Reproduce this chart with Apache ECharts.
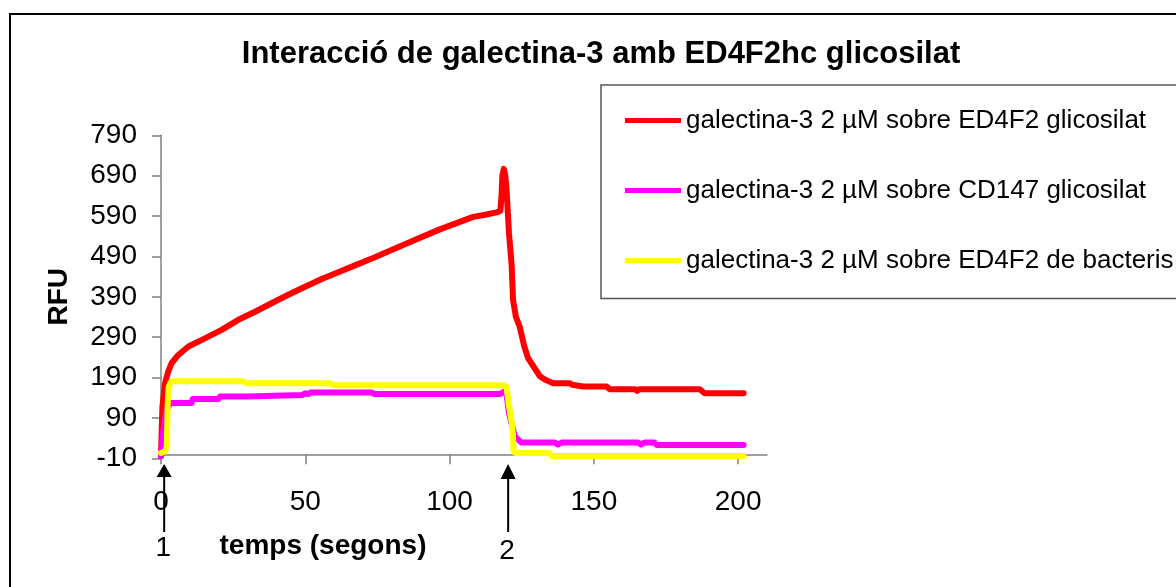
<!DOCTYPE html>
<html>
<head>
<meta charset="utf-8">
<script src="https://cdn.jsdelivr.net/npm/echarts@6/dist/echarts.min.js"></script>
<style>
  html, body { margin: 0; padding: 0; background: #ffffff; }
  #chart { width: 1176px; height: 587px; }
</style>
</head>
<body>
<div id="chart"></div>
<script>
// Binding kinetics of galectin-3 (RFU vs time in seconds)
const seriesNames = [
  'galectina-3 2 µM sobre ED4F2 glicosilat',
  'galectina-3 2 µM sobre CD147 glicosilat',
  'galectina-3 2 µM sobre ED4F2 de bacteris'
];

const redT = [0, 0.25, 0.5, 1.4, 2.5, 3.7, 6, 9.5, 15.2, 21, 26.8, 32.6, 38.3, 44.1, 49.9, 55.7, 61.4, 66.6, 73.5, 85.1, 96.6, 108.2, 112.8, 116.3, 117.6, 118, 118.3, 118.8, 119.3, 119.7, 120.6, 121.5, 122, 123, 124.3, 125.9, 127.2, 129.5, 131.3, 133, 135.9, 141.7, 142.5, 146.3, 154.4, 155.5, 164.3, 165, 165.7, 186.7, 188.4, 201.9];
const redV = [-5, 60, 118, 176, 205, 226, 246, 267, 287, 308, 333, 353, 374, 395, 415, 434, 451, 466, 486, 522, 557, 588, 594, 599, 603, 640, 690, 707, 690, 660, 547, 470, 382, 340, 316, 267, 238, 213, 193, 185, 176, 176, 172, 168, 168, 161, 161, 157, 161, 161, 151, 151];

const magT = [0, 0.3, 1, 2, 3.2, 10.6, 11, 19.9, 20.5, 30, 30.6, 49, 50, 51, 52, 73, 74, 117.5, 118.8, 119.7, 120.6, 121.5, 122.6, 123.8, 125, 136.5, 137.5, 138.8, 165.3, 166.3, 167.5, 171, 171.8, 201.9];
const magV = [-5, 20, 70, 110, 127, 127, 137, 137, 143, 143, 147, 147, 151, 149, 153, 153, 149, 149, 155, 150, 102, 75, 45, 36, 29, 29, 24, 29, 29, 24, 29, 29, 23, 23];

const yelT = [0, 1.5, 2.0, 2.3, 2.6, 3.3, 4.5, 28.5, 29.5, 58.6, 60, 118.6, 119.7, 120.6, 121.5, 121.9, 122.2, 122.8, 134.5, 135.5, 201.9];
const yelV = [3, 8, 20, 120, 165, 178, 181, 181, 176, 176, 171, 171, 167, 120, 80, 52, 8, 3, 3, -4, -4];

const xTicks = [0, 50, 100, 150, 200];
const yTicks = [-10, 90, 190, 290, 390, 490, 590, 690, 790];

// Injection marks under the time axis: [time, label]
const injections = [[1.1, '1'], [120.3, '2']];

const pairs = (t, v) => t.map((x, i) => [x, v[i]]);
const colors = ['#ff0000', '#ff00ff', '#ffff00'];
const FONT = "'Liberation Sans', Arial, Helvetica, sans-serif";

const chart = echarts.init(document.getElementById('chart'), null, { renderer: 'canvas' });

const makeSeries = (name, t, v, color) => ({
  name: name,
  type: 'line',
  data: pairs(t, v),
  showSymbol: false,
  symbol: 'none',
  smooth: false,
  lineStyle: { color: color, width: 6, join: 'round', cap: 'round' },
  itemStyle: { color: color },
  emphasis: { disabled: true },
  clip: false
});

const option = {
  animation: false,
  backgroundColor: '#ffffff',
  textStyle: { fontFamily: FONT },
  grid: { left: 161, right: 409, top: 135.3, bottom: 128.7, containLabel: false },
  legend: {
    orient: 'vertical',
    left: 625,
    top: 105,
    padding: 0,
    icon: 'rect',
    itemWidth: 56,
    itemHeight: 5,
    itemGap: 39,
    selectedMode: false,
    textStyle: { fontFamily: FONT, fontSize: 26, lineHeight: 31, color: '#000' },
    data: seriesNames
  },
  xAxis: {
    type: 'value',
    min: 0,
    max: 210,
    axisLine: { show: true, onZero: true, lineStyle: { color: '#808080', width: 1.5 } },
    axisTick: { show: true, length: 10, customValues: xTicks, lineStyle: { color: '#808080', width: 1.5 } },
    axisLabel: { customValues: xTicks, fontFamily: FONT, fontSize: 28, color: '#000', margin: 30 },
    splitLine: { show: false }
  },
  yAxis: {
    type: 'value',
    min: -10,
    max: 790,
    axisLine: { show: true, lineStyle: { color: '#808080', width: 1.5 } },
    axisTick: { show: true, length: 9, customValues: yTicks, lineStyle: { color: '#808080', width: 1.5 } },
    axisLabel: { customValues: yTicks, fontFamily: FONT, fontSize: 28, color: '#000', margin: 24 },
    splitLine: { show: false },
    name: 'RFU',
    nameLocation: 'middle',
    nameRotate: 90,
    nameGap: 88,
    nameTextStyle: { fontFamily: FONT, fontSize: 28, fontWeight: 'bold', color: '#000' }
  },
  series: [
    makeSeries(seriesNames[0], redT, redV, colors[0]),
    makeSeries(seriesNames[1], magT, magV, colors[1]),
    makeSeries(seriesNames[2], yelT, yelV, colors[2])
  ]
};

chart.setOption(option);

// Frame, title, legend box, axis title and injection arrows
const px = v => chart.convertToPixel({ xAxisIndex: 0 }, v);
const graphics = [
  { type: 'rect', id: 'frame', z: -10, silent: true,
    shape: { x: 10, y: 14, width: 1300, height: 700 },
    style: { fill: 'none', stroke: '#000', lineWidth: 2 } },
  { type: 'rect', id: 'legendBox', z: -5, silent: true,
    shape: { x: 601, y: 85, width: 700, height: 213.5 },
    style: { fill: 'none', stroke: '#555555', lineWidth: 1.5 } },
  { type: 'text', id: 'title', silent: true, x: 601, y: 54,
    style: { text: 'Interacció de galectina-3 amb ED4F2hc glicosilat', font: 'bold 31px ' + FONT,
      fill: '#000', textAlign: 'center', textVerticalAlign: 'middle' } },
  { type: 'text', id: 'xname', silent: true, x: 323, y: 546,
    style: { text: 'temps (segons)', font: 'bold 28px ' + FONT,
      fill: '#000', textAlign: 'center', textVerticalAlign: 'middle' } }
];
const arrowGeom = [{ tip: 464, base: 477, end: 532, labelY: 548 }, { tip: 464, base: 479, end: 532, labelY: 551 }];
injections.forEach((inj, i) => {
  const x = px(inj[0]);
  const g = arrowGeom[i];
  graphics.push(
    { type: 'line', id: 'shaft' + i, silent: true, z: 20,
      shape: { x1: x, y1: g.base - 1, x2: x, y2: g.end },
      style: { stroke: '#000', lineWidth: 2 } },
    { type: 'polygon', id: 'head' + i, silent: true, z: 20,
      shape: { points: [[x, g.tip], [x - 7.5, g.base], [x + 7.5, g.base]] },
      style: { fill: '#000' } },
    { type: 'text', id: 'inj' + i, silent: true, z: 20, x: x - 1, y: g.labelY,
      style: { text: inj[1], font: '28px ' + FONT, fill: '#000',
        textAlign: 'center', textVerticalAlign: 'middle' } }
  );
});
chart.setOption({ graphic: graphics });
</script>
</body>
</html>
